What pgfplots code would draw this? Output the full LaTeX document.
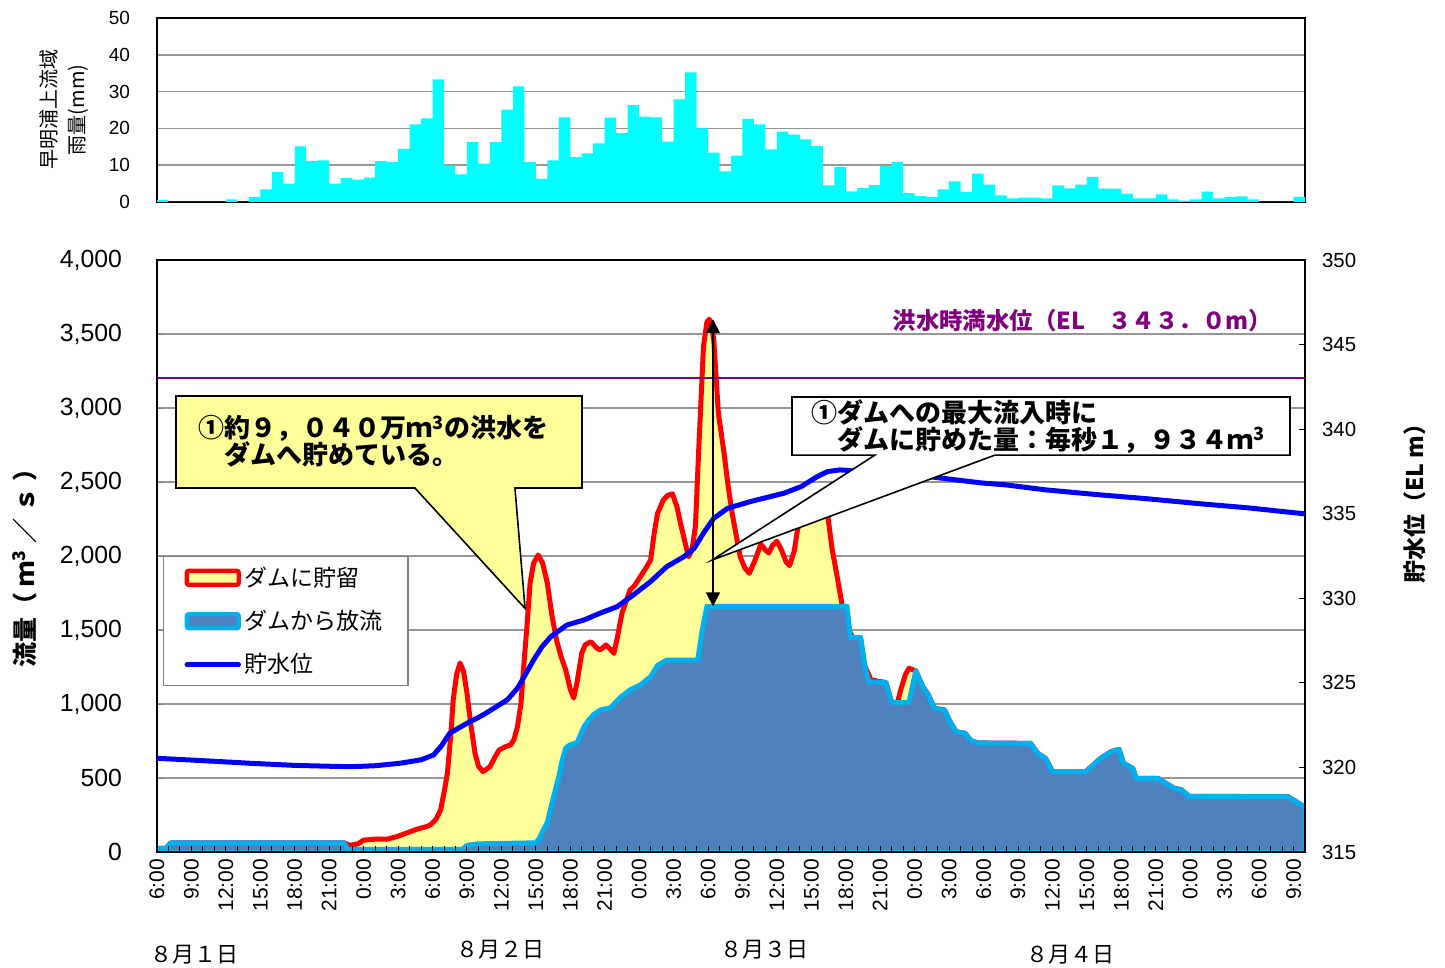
\documentclass[border=0pt]{standalone}
\usepackage{fontspec}
\setmainfont{Liberation Sans}
\newfontfamily\jp{Noto Sans CJK JP}
\usepackage{pgfplots}
\usepackage{pgfplotstable}
\pgfplotsset{compat=1.18}
\usetikzlibrary{arrows.meta}

\definecolor{yelfill}{RGB}{255,255,153}
\definecolor{outfill}{RGB}{79,129,189}
\definecolor{outline}{RGB}{0,176,240}
\definecolor{lvl}{RGB}{0,0,255}
\definecolor{ppl}{RGB}{128,0,128}
\definecolor{rainc}{RGB}{0,255,255}
\definecolor{gridc}{RGB}{150,150,150}
\definecolor{legc}{RGB}{128,128,128}

\pgfplotstableread{
h r
0 0.5
1 0
2 0
3 0
4 0
5 0
6 0.7
7 0
8 1.3
9 3.4
10 8.2
11 5.0
12 15.1
13 11.2
14 11.3
15 5.0
16 6.5
17 6.1
18 6.6
19 11.1
20 10.9
21 14.4
22 21.1
23 22.7
24 33.3
25 9.9
26 7.5
27 16.3
28 10.4
29 16.3
30 25.1
31 31.4
32 10.8
33 6.3
34 11.3
35 23.0
36 12.2
37 13.2
38 15.9
39 22.9
40 18.7
41 26.3
42 23.2
43 23.0
44 16.4
45 27.9
46 35.2
47 20.0
48 13.4
49 8.3
50 12.6
51 22.6
52 21.1
53 14.3
54 19.1
55 18.3
56 17.0
57 15.2
58 4.5
59 9.5
60 2.9
61 3.8
62 4.6
63 9.8
64 10.8
65 2.4
66 1.6
67 1.3
68 3.4
69 5.6
70 2.7
71 7.7
72 4.7
73 1.8
74 1.0
75 1.2
76 1.2
77 1.0
78 4.5
79 3.7
80 4.7
81 6.8
82 3.6
83 3.6
84 2.3
85 1.0
86 1.0
87 2.1
88 0.7
89 0.4
90 0.7
91 2.8
92 1.0
93 1.3
94 1.5
95 0.7
96 0
97 0
98 0
99 1.4
100 1.4
}\raintab

\pgfplotstableread{
h q
0 25
0.8 25
1.2 62
16.3 62
16.8 45
17.5 55
18.0 80
19.2 88
20.0 86
20.9 104
21.8 130
22.6 153
23.4 170
23.8 182
24.3 220
24.7 284
25.0 400
25.3 534
25.6 800
25.8 1027
26.1 1200
26.4 1277
26.7 1220
27.0 1074
27.3 880
27.7 669
28.0 580
28.4 543
29.0 576
29.5 650
29.8 689
30.3 710
30.8 723
31.1 760
31.4 847
31.7 1000
31.9 1209
32.2 1500
32.5 1817
32.8 1950
33.2 2007
33.6 1950
34.0 1817
34.4 1600
34.8 1432
35.2 1320
35.6 1230
36.0 1100
36.3 1040
36.6 1150
37.0 1344
37.3 1400
37.8 1421
38.3 1378
38.6 1365
39.1 1399
39.5 1370
39.8 1342
40.1 1450
40.5 1613
41.2 1770
41.6 1800
42.1 1860
42.6 1920
43.0 1973
43.3 2150
43.6 2288
44.1 2378
44.5 2410
44.9 2420
45.3 2330
45.6 2221
46.0 2090
46.3 1995
46.6 2040
46.9 2200
47.2 2739
47.6 3414
47.9 3580
48.1 3600
48.3 3560
48.5 3459
48.9 2964
49.4 2694
49.7 2500
50.1 2288
50.5 2120
50.8 1995
51.2 1920
51.6 1883
52.1 1973
52.6 2080
53.0 2040
53.3 2020
53.6 2070
54.0 2100
54.4 2040
54.8 1960
55.1 1935
55.5 2030
55.8 2180
56.3 2310
56.8 2360
57.4 2375
58.0 2350
58.4 2290
58.8 2050
59.3 1838
59.8 1613
60.4 1480
60.8 1420
61.3 1320
61.7 1250
62.2 1162
63.5 1145
64.0 1010
64.5 1010
64.8 1100
65.2 1200
65.5 1241
66.1 1225
66.7 1117
67.2 1061
67.7 971
68.6 960
69.0 892
69.6 813
70.4 802
70.9 752
71.5 737
76.1 734
76.7 667
77.4 633
78.0 543
80.9 543
82.2 633
83.1 678
83.8 694
84.2 599
85.0 565
85.3 498
87.2 498
87.9 464
88.6 430
89.2 422
89.9 376
98.5 374
99.1 347
99.8 311
100 300
}\inflow

\pgfplotstableread{
h q
0 25
0.8 25
1.2 62
16.3 62
16.6 18
26.6 18
27.0 45
28.0 55
33.0 62
33.3 90
33.6 140
34.0 200
34.5 360
35.0 510
35.3 620
35.6 700
35.9 720
36.6 740
37.2 847
37.6 890
38.0 926
38.6 959
39.5 975
40.4 1047
41.2 1095
42.1 1128
43.0 1185
43.6 1260
44.4 1297
47.1 1297
47.5 1500
47.9 1660
60.1 1660
60.4 1450
61.3 1450
61.7 1241
62.0 1150
63.5 1145
64.0 1010
65.5 1010
66.1 1225
66.7 1117
67.2 1061
67.7 971
68.6 960
69.0 892
69.6 813
70.4 802
70.9 752
71.5 737
76.1 734
76.7 667
77.4 633
78.0 543
80.9 543
82.2 633
83.1 678
83.8 694
84.2 599
85.0 565
85.3 498
87.2 498
87.9 464
88.6 430
89.2 422
89.9 376
98.5 374
99.1 347
99.8 311
100 300
}\outflow

\pgfplotstableread{
h l
0 320.54
4 320.40
8 320.25
12 320.12
16.8 320.04
19 320.10
21.2 320.25
23 320.45
24.1 320.74
24.8 321.30
25.5 322.02
27 322.61
28.4 323.10
30.5 323.99
31.4 324.68
32.1 325.50
32.8 326.35
33.5 327.10
34.3 327.73
35.7 328.42
37.2 328.72
38.6 329.12
40.1 329.51
41.5 330.20
43.0 330.99
44.4 331.87
45.9 332.46
46.8 332.96
47.6 333.85
48.5 334.73
49.7 335.32
51.7 335.72
54.6 336.21
56.1 336.60
57.5 337.19
58.4 337.49
59.5 337.59
60.4 337.55
63 337.40
67.4 337.18
71.8 336.82
74 336.70
77.4 336.41
82.2 336.11
86 335.90
91 335.58
95 335.35
100 334.99
}\level

\begin{document}
\begin{tikzpicture}
% ---------- rainfall ----------
\begin{axis}[
  at={(78.5pt,383pt)}, anchor=south west,
  width=574pt, height=92pt, scale only axis,
  xmin=0, xmax=100, ymin=0, ymax=50,
  xtick=\empty,
  ytick={0,10,...,50},
  ymajorgrids, grid style={gridc, line width=0.8pt},
  major tick length=0pt,
  axis line style={line width=1.2pt},
  yticklabel style={font=\fontsize{9.5}{11}\selectfont, xshift=-10pt},
  /pgf/number format/assume math mode=true,
  ylabel={早明浦上流域\\雨量(mm)},
  every axis y label/.style={at={(axis description cs:-0.081,0.5)}, rotate=90, anchor=center, align=center, font=\jp\fontsize{10}{14}\selectfont},
]
\addplot[const plot mark left, fill=rainc, draw=none] table[x=h,y=r]{\raintab} \closedcycle;
\end{axis}

% ---------- flows ----------
\begin{axis}[
  at={(78.5pt,58pt)}, anchor=south west,
  width=574pt, height=296pt, scale only axis,
  xmin=0, xmax=100, ymin=0, ymax=4000,
  xtick=\empty,
  ytick={0,500,...,4000}, ytick pos=left,
  ymajorgrids, grid style={gridc, line width=0.8pt},
  tick align=inside, major tick length=3pt,
  axis line style={line width=1.2pt},
  yticklabel style={font=\fontsize{12.4}{14}\selectfont, xshift=-14pt},
  /pgf/number format/1000 sep={,},
  /pgf/number format/assume math mode=true,
  ylabel={流量（\hspace{3pt}ｍ\textsuperscript{3}\hspace{3pt}／\hspace{3pt}ｓ\hspace{3pt}）},
  every axis y label/.style={at={(axis description cs:-0.115,0.49)}, rotate=90, anchor=center, font=\jp\bfseries\fontsize{12.5}{14}\selectfont},
]
\addplot[fill=yelfill, draw=none] table[x=h,y=q]{\inflow} \closedcycle;
\addplot[red, line width=2.5pt, line join=round] table[x=h,y=q]{\inflow};
\addplot[fill=outfill, draw=outline, line width=2.5pt, line join=round] table[x=h,y=q]{\outflow} \closedcycle;
\end{axis}

% ---------- level (right axis) ----------
\begin{axis}[
  at={(78.5pt,58pt)}, anchor=south west,
  width=574pt, height=296pt, scale only axis,
  xmin=0, xmax=100, ymin=315, ymax=350,
  axis y line*=right, axis x line*=bottom,
  clip=false,
  xtick={0,3,...,99},
  xticklabels={6:00,9:00,12:00,15:00,18:00,21:00,0:00,3:00,6:00,9:00,12:00,15:00,18:00,21:00,0:00,3:00,6:00,9:00,12:00,15:00,18:00,21:00,0:00,3:00,6:00,9:00,12:00,15:00,18:00,21:00,0:00,3:00,6:00,9:00},
  minor x tick num=2,
  ytick={315,320,...,350},
  tick align=inside, major tick length=3pt, minor tick length=3pt,
  tick style={black, line width=0.5pt},
  axis line style={line width=1.2pt},
  xticklabel style={rotate=90, anchor=east, font=\fontsize{10.5}{12}\selectfont},
  yticklabel style={font=\fontsize{10.2}{12}\selectfont, xshift=5pt},
  /pgf/number format/assume math mode=true,
  ylabel={貯水位（EL m）},
  every axis y label/.style={at={(axis description cs:1.096,0.598)}, rotate=90, anchor=center, font=\jp\bfseries\fontsize{11.5}{13}\selectfont},
  legend style={at={(axis description cs:0.0052,0.5)}, anchor=north west, draw=legc, fill=white, line width=0.6pt, font=\jp\fontsize{11.5}{13}\selectfont, row sep=6.5pt, inner xsep=10.5pt, inner ysep=3pt},
  legend cell align=left,
]
\addplot[lvl, line width=2.5pt, line join=round, forget plot] table[x=h,y=l]{\level};
\addplot[ppl, line width=1pt, forget plot] coordinates {(0,343) (100,343)};

\addlegendimage{legend image code/.code={\draw[draw=red, fill=yelfill, line width=2.2pt, rounded corners=1pt] (0pt,-3.5pt) rectangle (26pt,3.5pt);}}
\addlegendentry{ダムに貯留}
\addlegendimage{legend image code/.code={\draw[draw=outline, fill=outfill, line width=2.2pt, rounded corners=1pt] (0pt,-3.5pt) rectangle (26pt,3.5pt);}}
\addlegendentry{ダムから放流}
\addlegendimage{legend image code/.code={\draw[draw=lvl, line width=2.2pt, line cap=round] (0pt,0pt) -- (26pt,0pt);}}
\addlegendentry{貯水位}

% callout 1
\draw[fill=yelfill, line width=0.8pt] (rel axis cs:0.01655,0.7703) -- (rel axis cs:0.3702,0.7703) -- (rel axis cs:0.3702,0.6148) -- (rel axis cs:0.3118,0.6148) -- (rel axis cs:0.3206,0.4115) -- (rel axis cs:0.2247,0.6148) -- (rel axis cs:0.01655,0.6148) -- cycle;
\node[anchor=west, align=left, font=\jp\bfseries\fontsize{13}{13.5}\selectfont] at (rel axis cs:0.030,0.6934) {①約９，０４０万ｍ\textsuperscript{3}の洪水を\\　ダムへ貯めている。};

% callout 2
\draw[fill=white, line width=0.8pt] (rel axis cs:0.5531,0.7685) -- (rel axis cs:0.9869,0.7685) -- (rel axis cs:0.9869,0.6705) -- (rel axis cs:0.730,0.6705) -- (rel axis cs:0.4837,0.4933) -- (rel axis cs:0.6254,0.6705) -- (rel axis cs:0.5531,0.6705) -- cycle;
\node[anchor=west, align=left, font=\jp\bfseries\fontsize{13}{13.5}\selectfont] at (rel axis cs:0.564,0.719) {①ダムへの最大流入時に\\　ダムに貯めた量：毎秒１，９３４ｍ\textsuperscript{3}};

% arrow
\draw[{Triangle[width=7pt,length=7pt]}-{Triangle[width=7pt,length=7pt]}, line width=0.8pt] (rel axis cs:0.4843,0.415) -- (rel axis cs:0.4843,0.9);

% flood level label
\node[font=\jp\bfseries\fontsize{11.7}{13}\selectfont, text=ppl] at (rel axis cs:0.806,0.897) {洪水時満水位（EL　３４３．０m）};

% dates
\node[font=\jp\fontsize{11}{13}\selectfont, yshift=-51.5pt] at (rel axis cs:0.033,0) {８月１日};
\node[font=\jp\fontsize{11}{13}\selectfont, yshift=-49pt] at (rel axis cs:0.2988,0) {８月２日};
\node[font=\jp\fontsize{11}{13}\selectfont, yshift=-49pt] at (rel axis cs:0.5296,0) {８月３日};
\node[font=\jp\fontsize{11}{13}\selectfont, yshift=-51.5pt] at (rel axis cs:0.7953,0) {８月４日};
\end{axis}

\pgfresetboundingbox
\useasboundingbox (0,0) rectangle (722.5pt,484pt);
\end{tikzpicture}
\end{document}
